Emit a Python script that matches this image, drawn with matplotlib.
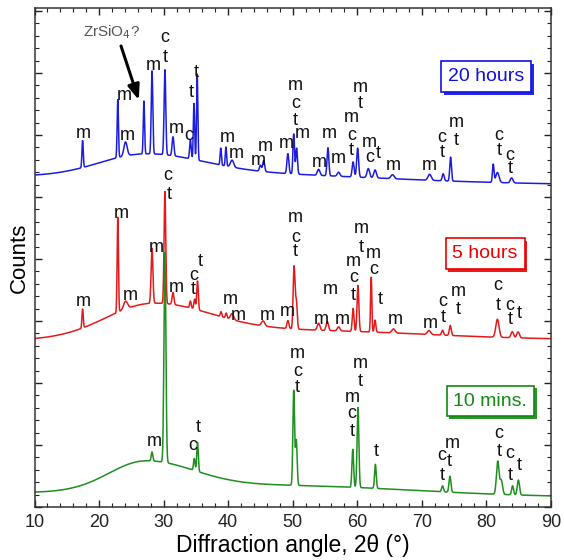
import numpy as np
import matplotlib
matplotlib.use("Agg")
import matplotlib.pyplot as plt
from matplotlib.ticker import MultipleLocator, NullFormatter
import matplotlib.patheffects as pe

plt.rcParams['font.family'] = ['Liberation Sans', 'DejaVu Sans']

# ---------------- data ----------------
two_theta = np.arange(10.0, 90.0001, 0.02)

# background: linear (start, end) + broad humps (center, amp, sigma_left, sigma_right)
green_bg = (13.0, 10.0)
green_humps = [(27.0, 28.0, 5.5, 7.5), (48.0, 10.0, 20.0, 20.0)]
green_pos = [28.2, 30.2, 34.75, 35.25, 50.15, 50.55, 59.3, 60.1, 62.8, 73.2, 74.35, 81.75, 82.3, 84.05, 84.95]
green_hgt = [9, 210, 12, 29, 95, 45, 38, 80, 24, 6, 16, 33, 14, 9, 15]
green_wid = [0.12, 0.15, 0.12, 0.12, 0.13, 0.13, 0.13, 0.14, 0.13, 0.15, 0.15, 0.2, 0.2, 0.15, 0.17]

red_bg = (166.0, 167.0)
red_humps = [(28.0, 32.0, 7.0, 9.0), (50.0, 10.0, 20.0, 20.0)]
red_pos = [17.45, 22.9, 24.1, 28.2, 30.2, 31.45, 34.15, 34.8, 35.25, 38.9, 39.7, 40.6, 45.4, 49.25, 50.2, 50.55,
           54.0, 55.35, 57.1, 59.35, 60.1, 62.15, 62.75, 65.6, 71.1, 73.2, 74.4, 81.7, 84.0, 84.9]
red_hgt = [19, 95, 8, 55, 112, 12, 7, 10, 29, 5, 5, 6, 5, 8, 62, 28,
           7, 9, 4, 23, 46, 55, 12, 4, 4, 5, 10, 18, 6, 6]
red_wid = [0.1, 0.1, 0.3, 0.14, 0.13, 0.14, 0.12, 0.12, 0.12, 0.12, 0.12, 0.25, 0.25, 0.15, 0.14, 0.14,
           0.2, 0.18, 0.2, 0.13, 0.14, 0.1, 0.12, 0.25, 0.25, 0.15, 0.15, 0.25, 0.2, 0.2]

blue_bg = (330.0, 323.0)
blue_humps = [(27.0, 21.0, 7.0, 9.0), (45.0, 6.0, 18.0, 18.0)]
blue_pos = [17.45, 22.9, 24.1, 26.95, 28.2, 30.2, 31.45, 34.15, 34.7, 35.2, 38.85, 39.65, 40.6, 45.0, 45.5,
            49.25, 50.15, 50.6, 54.0, 55.45, 57.1, 59.35, 60.05, 61.7, 62.75, 65.45, 71.2, 73.3, 74.45,
            81.05, 81.7, 83.9]
blue_hgt = [27, 58, 14, 53, 83, 85, 19, 19, 56, 86, 17, 19, 7, 6, 11,
            20, 40, 26, 6, 28, 4, 15, 29, 9, 8, 4, 6, 7, 24,
            18, 10, 5]
blue_wid = [0.1, 0.1, 0.25, 0.1, 0.12, 0.13, 0.14, 0.12, 0.1, 0.1, 0.1, 0.1, 0.25, 0.15, 0.15,
            0.15, 0.12, 0.13, 0.2, 0.14, 0.2, 0.15, 0.15, 0.2, 0.2, 0.25, 0.25, 0.15, 0.13,
            0.12, 0.25, 0.2]

# peak labels: (2theta, y, text)
blue_labels = [(17.5, 374, 'm'), (23.85, 412, 'm'), (24.45, 372, 'm'), (28.45, 442, 'm'),
               (30.2, 469, 'c'), (30.2, 450, 't'), (31.9, 379, 'm'), (33.9, 372, 'c'),
               (34.35, 415, 't'), (35.1, 435, 't'), (39.9, 370, 'm'), (41.3, 354, 'm'),
               (44.7, 347, 'm'), (45.8, 361, 'm'), (49.0, 364, 'm'),
               (50.4, 422, 'm'), (50.4, 404, 'c'), (50.4, 387, 't'), (51.5, 374, 'm'),
               (54.1, 345, 'm'), (55.7, 374, 'm'), (57.1, 349, 'm'),
               (59.1, 390, 'm'), (59.1, 372, 'c'), (59.1, 357, 't'),
               (60.5, 420, 'm'), (60.5, 404, 't'), (61.9, 365, 'm'), (61.9, 350, 'c'),
               (63.25, 354, 't'), (65.55, 342, 'm'), (71.1, 342, 'm'),
               (73.1, 370, 'c'), (73.1, 355, 't'), (75.3, 385, 'm'), (75.3, 367, 't'),
               (81.95, 372, 'c'), (81.95, 357, 't'), (83.65, 352, 'c'), (83.65, 339, 't')]
red_labels = [(17.5, 205, 'm'), (23.4, 294, 'm'), (24.9, 212, 'm'), (28.8, 260, 'm'),
              (30.7, 332, 'c'), (30.8, 313, 't'), (32.0, 220, 'm'), (34.65, 231, 'c'),
              (34.65, 217, 't'), (35.75, 245, 't'), (40.4, 207, 'm'), (41.6, 191, 'm'),
              (46.1, 191, 'm'), (49.2, 195, 'm'),
              (50.4, 290, 'm'), (50.4, 270, 'c'), (50.4, 255, 't'),
              (54.4, 187, 'm'), (55.8, 217, 'm'), (57.7, 188, 'm'),
              (59.4, 245, 'm'), (59.4, 230, 'c'), (59.4, 212, 't'),
              (60.6, 279, 'm'), (60.6, 260, 't'), (62.5, 254, 'm'), (62.5, 237, 'c'),
              (63.6, 207, 't'), (65.9, 187, 'm'), (71.3, 184, 'm'),
              (73.3, 205, 'c'), (73.3, 190, 't'), (75.6, 215, 'm'), (75.6, 197, 't'),
              (81.8, 222, 'c'), (81.8, 202, 't'), (83.65, 202, 'c'), (83.65, 187, 't'),
              (85.05, 194, 't')]
green_labels = [(28.6, 65, 'm'), (34.5, 61, 'c'), (35.3, 79, 't'),
                (50.7, 154, 'm'), (50.7, 136, 'c'), (50.7, 120, 't'),
                (59.2, 110, 'm'), (59.2, 93, 'c'), (59.2, 76, 't'),
                (60.5, 144, 'm'), (60.5, 126, 't'), (63.0, 55, 't'),
                (73.1, 52, 'c'), (73.1, 32, 't'), (74.7, 64, 'm'), (74.2, 45, 't'),
                (81.95, 73, 'c'), (81.95, 56, 't'), (83.65, 54, 'c'), (83.65, 32, 't'),
                (85.05, 42, 't')]

series_names = ['20 hours', '5 hours', '10 mins.']
name_pos = [(79.9, 430.5), (79.8, 253.5), (80.6, 106.0)]

x_ticks = [10, 20, 30, 40, 50, 60, 70, 80, 90]

# colors
c_blue_line, c_blue_txt = '#1c1ce0', '#1010e6'
c_red_line, c_red_txt = '#e41a1a', '#ee0000'
c_green_line, c_green_txt = '#1f8f1f', '#118a11'


def profile(x, bg, humps, pos, hgt, wid):
    y = bg[0] + (bg[1] - bg[0]) * (x - x[0]) / (x[-1] - x[0])
    for c, a, sl, sr in humps:
        s = np.where(x < c, sl, sr)
        y = y + a * np.exp(-(x - c) ** 2 / (2 * s ** 2))
    for c, a, w in zip(pos, hgt, wid):
        y = y + a * np.exp(-(x - c) ** 2 / (2 * w ** 2))
    return y


fig = plt.figure(figsize=(5.64, 5.60), dpi=100)
ax = fig.add_axes([34.5 / 564, 53 / 560, (551 - 34.5) / 564, (507 - 8) / 560])

y_blue = profile(two_theta, blue_bg, blue_humps, blue_pos, blue_hgt, blue_wid)
y_red = profile(two_theta, red_bg, red_humps, red_pos, red_hgt, red_wid)
y_green = profile(two_theta, green_bg, green_humps, green_pos, green_hgt, green_wid)

ax.plot(two_theta, y_blue, color=c_blue_line, lw=1.1)
ax.plot(two_theta, y_red, color=c_red_line, lw=1.1)
ax.plot(two_theta, y_green, color=c_green_line, lw=1.1)

for labels in (blue_labels, red_labels, green_labels):
    for xx, yy, t in labels:
        ax.text(xx, yy, t, ha='center', va='center', fontsize=13, color='#111111')

# ZrSiO4 annotation
ax.annotate('', xy=(26.15, 407), xytext=(23.4, 461),
            arrowprops=dict(arrowstyle='-|>,head_length=0.9,head_width=0.35', lw=2.2, color='black',
                            shrinkA=0, shrinkB=0))
ax.text(21.9, 475, 'ZrSiO$_4$?', ha='center', va='center', fontsize=11, color='#555555')

for name, (px, py), tc in zip(series_names, name_pos, [c_blue_txt, c_red_txt, c_green_txt]):
    t = ax.text(px, py, name, ha='center', va='center', fontsize=14, color=tc,
                bbox=dict(boxstyle='square,pad=0.35', fc='white', ec=tc, lw=1.2))
    t.get_bbox_patch().set_path_effects([
        pe.SimplePatchShadow(offset=(2, -2), shadow_rgbFace=tc, alpha=0.9), pe.Normal()])

ax.set_xlim(10, 90)
ax.set_ylim(0, 499)
ax.set_xticks(x_ticks)
ax.xaxis.set_minor_locator(MultipleLocator(2))
ax.yaxis.set_major_locator(MultipleLocator(62))
ax.yaxis.set_minor_locator(MultipleLocator(12.4))
ax.yaxis.set_major_formatter(NullFormatter())
ax.tick_params(which='both', direction='in', top=True, right=True, labelsize=13, colors='#222222')
ax.tick_params(which='major', length=5, width=1)
ax.tick_params(which='minor', length=3, width=0.8)
ax.tick_params(axis='x', pad=5)
for sp in ax.spines.values():
    sp.set_linewidth(1.1)
    sp.set_color('#333333')

ax.set_xlabel('Diffraction angle, 2θ (°)', fontsize=16.5, labelpad=2)
ax.set_ylabel('Counts', fontsize=16, labelpad=1)
ax.yaxis.set_label_coords(-0.008, 0.5)

fig.savefig('out.png', dpi=100)
